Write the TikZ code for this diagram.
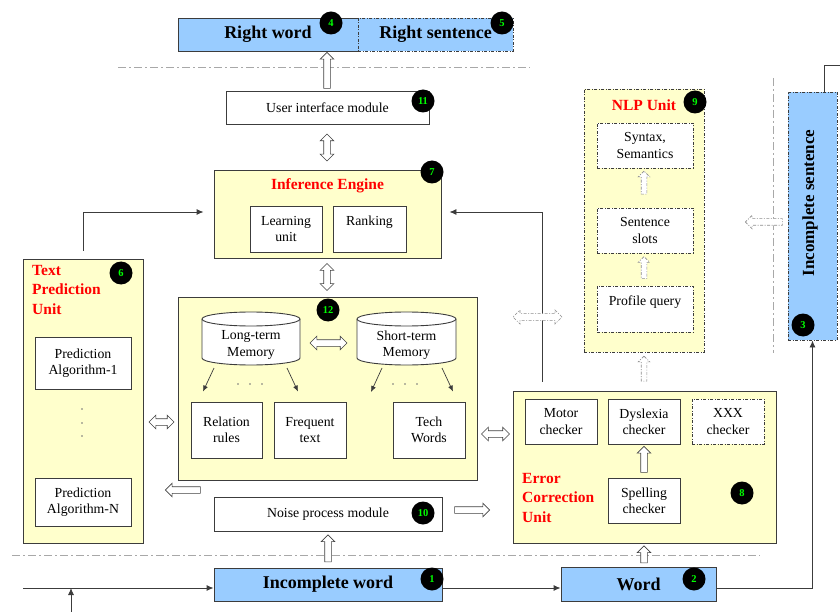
\documentclass[tikz,border=0pt]{standalone}
\usepackage{fontspec}
\setmainfont{Liberation Serif}
\usetikzlibrary{shapes.arrows,calc,arrows.meta}
\definecolor{ylw}{HTML}{FFFFCC}
\definecolor{blu}{HTML}{99CCFF}
\definecolor{bord}{HTML}{3C3C3C}
\definecolor{grn}{HTML}{00FF00}
\definecolor{gline}{HTML}{A8A8A8}
\tikzset{
 base/.style={draw=bord, line width=0.9pt, inner sep=0pt, font=\fontsize{13.8}{16.2}\selectfont, align=center},
 wbox/.style={base, fill=white},
 ybox/.style={base, fill=ylw},
 bbox/.style={base, fill=blu, font=\fontsize{18}{21}\selectfont\bfseries},
 dsh/.style={dash pattern=on 3pt off 1.5pt on 1pt off 1.5pt},
 badge/.style={circle, fill=black, minimum size=23pt, inner sep=0pt, text=grn, font=\fontsize{10.5}{10.5}\selectfont\bfseries},
 ttl/.style={text=red, inner sep=0pt, font=\fontsize{15.5}{19.5}\selectfont\bfseries, align=left},
 harrow/.style={single arrow, draw=black!75, fill=white, line width=0.6pt, inner sep=3pt, minimum width=13pt, single arrow head extend=3.5pt, single arrow head indent=0pt},
 hdarrow/.style={double arrow, draw=black!75, fill=white, line width=0.6pt, inner sep=3pt, minimum width=13pt, double arrow head extend=3.5pt, double arrow head indent=0pt},
 dashhollow/.style={draw=black!45, dsh},
 sep/.style={draw=gline, line width=1pt, dash pattern=on 8pt off 3pt on 2pt off 3pt},
 conn/.style={draw=bord, line width=0.9pt, -{Latex[length=7pt,width=6pt]}},
 sconn/.style={draw=bord, line width=0.7pt, -{Latex[length=6pt,width=5pt]}},
 cyl/.style={draw=bord, line width=0.9pt, fill=white},
 dotm/.style={fill=black!55},
}
\begin{document}
\begin{tikzpicture}[x=1pt,y=-1pt]
\useasboundingbox (0,0) rectangle (840,612);

% separators
\draw[sep] (118,68) -- (530,68);
\draw[sep] (12,555) -- (760,555);
\draw[sep] (773,78) -- (773,353);

% top output boxes
\node[bbox, minimum width=180pt, minimum height=33pt] (rw) at (268,34.5) {Right word};
\node[bbox, dsh, minimum width=155pt, minimum height=33pt] (rs) at (435.5,34.5) {Right sentence};
\node[badge] (b4) at (331,23) {4};
\node[badge] (b5) at (502,23) {5};

% user interface
\node[wbox, minimum width=203pt, minimum height=33pt] (ui) at (327.5,107.5) {User interface module};
\node[badge] (b11) at (423,101) {11};

% inference engine
\node[ybox, minimum width=227pt, minimum height=88pt] (ie) at (327.5,214) {};
\node[ttl] (iet) at (327.5,186) {Inference Engine};
\node[wbox, minimum width=72pt, minimum height=46pt] (lu) at (286,229) {Learning\\unit};
\node[wbox, minimum width=73pt, minimum height=46pt] (rk) at (369.5,229) {Ranking\\~};
\node[badge] (b7) at (432,172) {7};

% memory
\node[ybox, minimum width=299pt, minimum height=183pt] (mem) at (327.5,388.5) {};
\draw[cyl] (202,319) -- (202,358) arc[start angle=180, end angle=360, x radius=49pt, y radius=7pt] -- (300,319) arc[start angle=0, end angle=180, x radius=49pt, y radius=7pt] -- cycle;
\draw[draw=bord, line width=0.9pt] (202,319) arc[start angle=180, end angle=360, x radius=49pt, y radius=7pt];
\draw[cyl] (357,319) -- (357,358) arc[start angle=180, end angle=360, x radius=49.5pt, y radius=7pt] -- (456,319) arc[start angle=0, end angle=180, x radius=49.5pt, y radius=7pt] -- cycle;
\draw[draw=bord, line width=0.9pt] (357,319) arc[start angle=180, end angle=360, x radius=49.5pt, y radius=7pt];
\node[font=\fontsize{13.8}{16.2}\selectfont, align=center, inner sep=0pt] (ltm) at (251,345) {Long-term\\Memory};
\node[font=\fontsize{13.8}{16.2}\selectfont, align=center, inner sep=0pt] (stm) at (406.5,345) {Short-term\\Memory};
\node[badge] (b12) at (328,310) {12};
\node[wbox, minimum width=71pt, minimum height=56pt] (rr) at (226.5,430) {Relation\\rules};
\node[wbox, minimum width=72pt, minimum height=56pt] (ft) at (310,430) {Frequent\\text};
\node[wbox, minimum width=72pt, minimum height=56pt] (tw) at (429,430) {Tech\\Words};
\coordinate (l1) at (214,368);
\coordinate (l2) at (287,368);
\coordinate (s1) at (382,368);
\coordinate (s2) at (442,368);
\coordinate (s1t) at (371,392);
\draw[sconn] (l1) -- ($(rr.north)+(-23.5,-10)$);
\draw[sconn] (l2) -- ($(ft.north)+(-12,-10)$);
\draw[sconn] (s1) -- (s1t);
\draw[sconn] (s2) -- ($(tw.north)+(24,-10)$);
\foreach \x in {238,250,262,393,405,417} \fill[dotm] (\x,384) circle[radius=0.9pt];
\node[hdarrow, minimum height=37pt] (a_mem) at (328.5,343) {};

% noise process
\node[wbox, minimum width=228pt, minimum height=34pt] (np) at (328,514) {Noise process module};
\node[badge] (b10) at (423,513) {10};

% text prediction unit
\node[ybox, minimum width=120pt, minimum height=284pt] (tpu) at (83,401) {};
\node[ttl, anchor=north west] (tput) at (32,265) {Text\\Prediction\\Unit};
\node[badge] (b6) at (121,273) {6};
\node[wbox, minimum width=96pt, minimum height=52pt] (pa1) at (83,363) {Prediction\\Algorithm-1};
\node[wbox, minimum width=96pt, minimum height=48pt] (paN) at (83,502) {Prediction\\Algorithm-N};
\foreach \y in {409,423,436} \fill[dotm] (82,\y) circle[radius=0.9pt];

% error correction unit
\node[ybox, minimum width=263pt, minimum height=152pt] (ecu) at (644.5,467) {};
\node[wbox, minimum width=72pt, minimum height=45pt] (mc) at (561,421.5) {Motor\\checker};
\node[wbox, minimum width=72pt, minimum height=45pt] (dc) at (644,421.5) {Dyslexia\\checker};
\node[wbox, dsh, minimum width=72pt, minimum height=45pt] (xc) at (728,421.5) {XXX\\checker};
\node[wbox, minimum width=72pt, minimum height=45pt] (sc) at (644,500.5) {Spelling\\checker};
\node[ttl, anchor=north west] (ecut) at (522,473) {Error\\Correction\\Unit};
\node[badge] (b8) at (742,493) {8};
\node[harrow, minimum height=26pt, shape border rotate=90] (a_sd) at (644,461) {};

% NLP unit
\node[ybox, dsh, minimum width=120pt, minimum height=263pt] (nlp) at (644,220.5) {};
\node[ttl] (nlpt) at (644,105) {NLP Unit};
\node[badge] (b9) at (695,102) {9};
\node[wbox, dsh, minimum width=96pt, minimum height=45pt] (ss) at (645,145.5) {Syntax,\\Semantics};
\node[wbox, dsh, minimum width=96pt, minimum height=45pt] (sl) at (645,230.5) {Sentence\\slots};
\node[wbox, dsh, minimum width=96pt, minimum height=46pt] (pq) at (645,309) {Profile query\\~};
\node[harrow, dashhollow, inner sep=2.5pt, minimum width=11pt, single arrow head extend=3pt, minimum height=23pt, shape border rotate=90] (a_ls) at (644,184) {};
\node[harrow, dashhollow, inner sep=2.5pt, minimum width=11pt, single arrow head extend=3pt, minimum height=22pt, shape border rotate=90] (a_ps) at (644,269) {};
\node[harrow, dashhollow, inner sep=2.5pt, minimum width=11pt, single arrow head extend=3pt, minimum height=25pt, shape border rotate=90] (a_en) at (644,370) {};

% incomplete sentence
\node[base, dsh, fill=blu, minimum width=49pt, minimum height=248pt] (is) at (812.5,216) {};
\node[rotate=90, inner sep=0pt, font=\fontsize{17}{20}\selectfont\bfseries] (ist) at (810,203) {Incomplete sentence};
\node[badge] (b3) at (803,325) {3};
\node[harrow, dashhollow, minimum height=37pt, shape border rotate=180] (a_is) at (765.5,222) {};

% bottom inputs
\node[bbox, minimum width=228pt, minimum height=33pt] (iw) at (328,584.5) {Incomplete word};
\node[badge] (b1) at (432,579) {1};
\node[bbox, minimum width=155pt, minimum height=34pt] (wd) at (638.5,584) {Word};
\node[badge] (b2) at (694,579) {2};

% line connectors
\coordinate (in) at (23,588);
\coordinate (src) at (71,612);
\coordinate (off) at (840,65);
\draw[conn] (in) -- (in -| iw.west);
\draw[conn] (src) -- (src |- in);
\draw[conn] (iw.east |- in) -- (wd.west |- in);
\draw[conn] (wd.east |- in) -| (is.south);
\draw[draw=bord, line width=0.9pt] ($(is.north)+(11.5,0)$) |- (off);
\draw[conn, shorten <=8pt, shorten >=10pt] (tpu.north) |- ($(ie.west)+(0,-2)$);
\coordinate (ecutop) at ($(ecu.north west)+(30,0)$);
\draw[conn, shorten <=9pt, shorten >=8pt] (ecutop) |- ($(ie.east)+(0,-2)$);
\node[hdarrow, dashhollow, minimum width=14pt, minimum height=49pt] (a_nl) at (537.5,317) {};

% hollow block arrows
\node[harrow, minimum height=36pt, shape border rotate=90] (a_ur) at (327,72) {};
\node[hdarrow, minimum height=27pt, shape border rotate=90] (a_ui) at (327,147.5) {};
\node[hdarrow, minimum height=27pt, shape border rotate=90] (a_im) at (327,277) {};
\node[hdarrow, minimum height=25pt] (a_tm) at (161.5,422) {};
\node[hdarrow, minimum height=28pt] (a_me) at (495.5,434) {};
\node[harrow, minimum height=35pt, shape border rotate=180] (a_nt) at (184.5,490) {};
\node[harrow, minimum height=35pt] (a_ne) at (470.5,510) {};
\node[harrow, minimum height=27pt, shape border rotate=90] (a_wn) at (328,550) {};
\node[harrow, minimum height=17pt, shape border rotate=90] (a_we) at (644,556) {};
\end{tikzpicture}
\end{document}
